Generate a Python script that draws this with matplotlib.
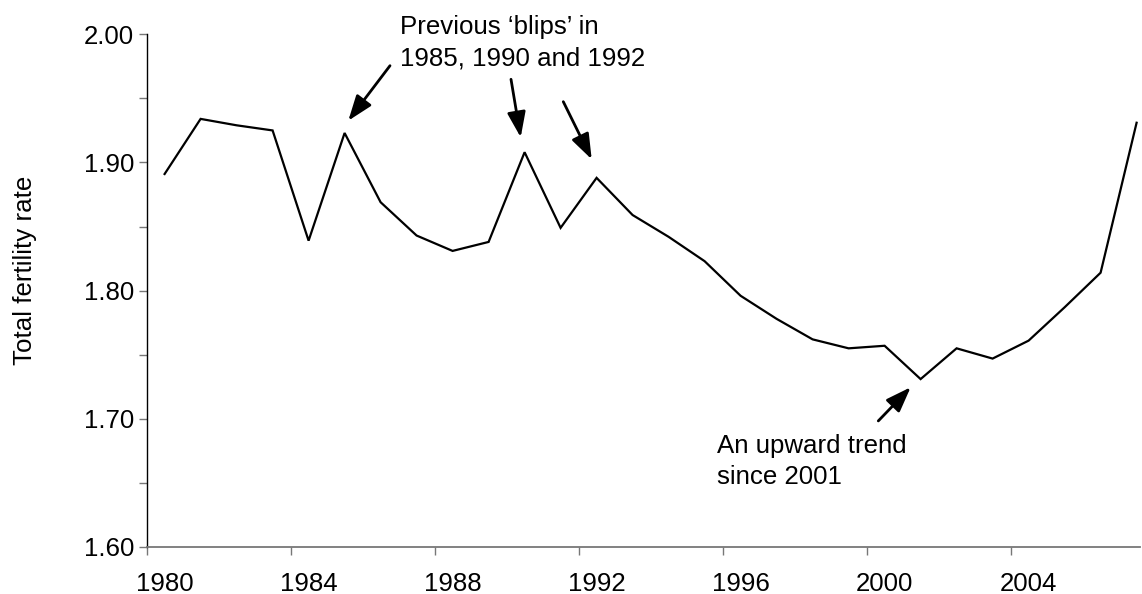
import matplotlib
matplotlib.use("Agg")
import matplotlib.pyplot as plt
from matplotlib.ticker import MultipleLocator, FixedLocator, FormatStrFormatter

plt.rcParams['font.family'] = ['Liberation Sans', 'DejaVu Sans']

years = list(range(1980, 2008))
tfr = [1.891, 1.934, 1.929, 1.925, 1.839, 1.923, 1.869, 1.843, 1.831, 1.838,
       1.908, 1.849, 1.888, 1.859, 1.842, 1.823, 1.796, 1.778, 1.762, 1.755,
       1.757, 1.731, 1.755, 1.747, 1.761, 1.787, 1.814, 1.931]
xtick_years = [1980, 1984, 1988, 1992, 1996, 2000, 2004]
xtick_labels = [str(y) for y in xtick_years]
ylabel = "Total fertility rate"
note_blips = "Previous \u2018blips\u2019 in\n1985, 1990 and 1992"
note_trend = "An upward trend\nsince 2001"

FS = 18.6
W, H = 1142, 594
fig = plt.figure(figsize=(W / 100, H / 100), dpi=100)
left_px, right_px, top_px, bot_px = 146.6, 1140, 34.3, 547
ax = fig.add_axes([left_px / W, 1 - bot_px / H, (right_px - left_px) / W, (bot_px - top_px) / H])

# category-style x axis: points sit in the middle of each year slot
xs = [y + 0.5 for y in years]
ax.plot(xs, tfr, color='black', lw=1.6, solid_joinstyle='miter')

ax.set_xlim(1980, 1980 + (right_px - left_px) / 36.0)
ax.set_ylim(1.60, 2.00)
# tick marks on year boundaries, labels centred on the year slot
ax.xaxis.set_major_locator(FixedLocator(xtick_years))
ax.xaxis.set_major_formatter(matplotlib.ticker.NullFormatter())
ax.set_xticks([y + 0.5 for y in xtick_years], minor=True)
ax.set_xticklabels(xtick_labels, minor=True)
ax.yaxis.set_major_locator(MultipleLocator(0.10))
ax.yaxis.set_minor_locator(MultipleLocator(0.05))
ax.yaxis.set_major_formatter(FormatStrFormatter('%.2f'))

for s in ['top', 'right']:
    ax.spines[s].set_visible(False)
ax.spines['left'].set_color('black')
ax.spines['left'].set_linewidth(1.0)
ax.spines['bottom'].set_color('#777777')
ax.spines['bottom'].set_linewidth(1.3)

ax.tick_params(axis='x', which='major', direction='out', length=6, width=1,
               color='#777777')
ax.tick_params(axis='x', which='minor', length=0, labelsize=FS, pad=18)
ax.tick_params(axis='y', which='both', direction='out', length=6, width=1,
               color='#777777', labelsize=FS, pad=3)
fig.text(25 / W, 1 - 270 / H, ylabel, fontsize=FS, rotation=90,
         ha='center', va='center')

arrow = dict(arrowstyle='-|>,head_length=1.1,head_width=0.4', color='black',
             lw=2, shrinkA=0, shrinkB=0, mutation_scale=14)

def px2d(px, py):
    return (1980 + (px - left_px) / 36.0, 2.0 - (py - top_px) / 1282.0)

ax.text(*px2d(400, 15), note_blips, fontsize=FS, va='top', ha='left',
        linespacing=1.38, clip_on=False)
ax.text(*px2d(717, 434), note_trend, fontsize=FS, va='top', ha='left',
        linespacing=1.38, clip_on=False)

for tail, head in [((390, 65.7), (348.3, 120.7)),
                   ((511, 79.3), (520.7, 137.3)),
                   ((563.3, 101.7), (591.7, 159.3)),
                   ((878.3, 421), (910.7, 387.3))]:
    ax.annotate('', xy=px2d(*head), xytext=px2d(*tail), arrowprops=arrow,
                annotation_clip=False)

fig.savefig('out.png', dpi=100)
